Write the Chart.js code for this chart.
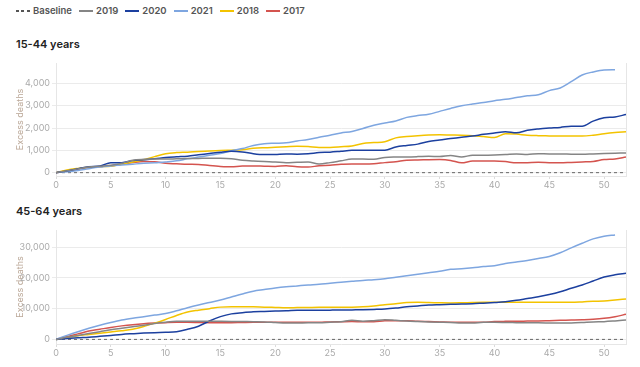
<!DOCTYPE html>
<html>
<head>
<meta charset="utf-8">
<script src="https://cdn.jsdelivr.net/npm/chart.js@4.4.1/dist/chart.umd.min.js"></script>
<style>
  body { margin: 0; width: 640px; height: 367px; background: #fff; position: relative; overflow: hidden; font-family: Inter, 'Noto Sans', sans-serif; }
  #legend { position: absolute; left: 16px; top: 5px; display: flex; align-items: center; font-size: 9.5px; font-weight: 600; color: #555; }
  .item { display: flex; align-items: center; margin-right: 7px; }
  .swatch { width: 14px; height: 2px; margin-right: 3px; }
  .title { position: absolute; left: 16px; font-size: 11px; font-weight: 600; color: #222; line-height: 13px; }
  .wrap { position: absolute; left: 0; width: 640px; }
</style>
</head>
<body>
<div id="legend"></div>
<div class="title" style="top:38px">15-44 years</div>
<div class="wrap" style="top:55px;height:135px"><canvas id="young"></canvas></div>
<div class="title" style="top:205px">45-64 years</div>
<div class="wrap" style="top:222px;height:136px"><canvas id="old"></canvas></div>
<script>
// week numbers (x axis)
const weeks = [0,1,2,3,4,5,6,7,8,9,10,11,12,13,14,15,16,17,18,19,20,21,22,23,24,25,
  26,27,28,29,30,31,32,33,34,35,36,37,38,39,40,41,42,43,44,45,46,47,48,49,50,51,52];
const weekTicks = [0, 5, 10, 15, 20, 25, 30, 35, 40, 45, 50];

const seriesNames = ['2019', '2020', '2021', '2018', '2017'];
const seriesColors = ['#858585', '#1c409f', '#7ea6e0', '#f3c300', '#d4544f'];

// 15-44 years, cumulative excess deaths
const young2019 = [0,80,170,250,290,330,420,560,600,610,610,620,630,640,650,645,620,560,525,500,480,450,470,480,390,450,
  530,610,610,600,680,700,705,720,740,720,765,705,780,780,790,810,840,820,850,840,840,830,825,840,855,870,885];
const young2020 = [0,80,180,270,300,450,450,540,580,620,675,710,740,800,860,920,960,930,850,810,820,840,830,850,900,920,
  960,1000,1000,1000,1010,1150,1220,1280,1400,1460,1530,1590,1640,1720,1780,1840,1790,1900,1960,2000,2030,2085,2085,2310,2460,2500,2610];
const young2021 = [0,40,100,180,250,300,340,380,420,440,480,530,620,700,780,860,980,1080,1220,1300,1320,1340,1420,1490,1590,1680,
  1780,1850,1980,2130,2230,2320,2480,2560,2620,2750,2880,3000,3080,3150,3230,3290,3370,3450,3500,3680,3800,4080,4380,4520,4610,4620];
const young2018 = [0,120,190,240,270,290,380,480,580,720,850,900,920,950,975,990,1010,1030,1090,1120,1140,1160,1180,1170,1130,1130,
  1160,1200,1310,1350,1390,1560,1620,1660,1690,1700,1690,1680,1660,1620,1580,1750,1730,1680,1660,1650,1640,1640,1640,1680,1750,1800,1830];
const young2017 = [0,90,170,230,270,310,380,450,500,490,420,400,380,370,320,280,260,300,300,290,280,310,260,250,310,330,
  380,390,390,400,450,490,560,570,580,585,550,440,520,525,525,500,440,450,465,450,440,460,480,500,585,615,705];

// 45-64 years, cumulative excess deaths
const old2019 = [0,700,1300,1900,2500,3100,3600,4100,4600,5200,5600,5870,5900,5900,5880,5870,5850,5800,5760,5700,5500,5320,5350,5400,5430,5600,
  5760,6190,5900,6100,6400,6200,5980,5800,5700,5600,5500,5320,5300,5540,5540,5500,5450,5400,5380,5350,5320,5350,5500,5700,5760,6000,6300];
const old2020 = [0,250,500,700,1000,1300,1630,1850,2050,2200,2300,2500,3300,4300,6000,7400,8300,8700,9000,9100,9200,9300,9450,9500,9500,9520,
  9550,9600,9650,9750,9880,10200,10630,10900,11180,11300,11400,11510,11600,11800,12000,12260,12700,13300,13890,14600,15500,16630,17700,19000,20300,21000,21520];
const old2021 = [0,1300,2500,3600,4600,5500,6300,6900,7400,7900,8400,9300,10300,11200,12000,12800,13800,14800,15700,16200,16700,17100,17400,17700,17950,18300,
  18600,18900,19200,19400,19700,20200,20700,21200,21700,22200,22800,23000,23300,23700,24000,24700,25200,25700,26300,27000,28200,29800,31300,32700,33600,34000];
const old2018 = [0,600,1200,1600,2000,2400,2800,3300,4200,5300,6500,7800,8900,9500,10000,10500,10650,10650,10630,10500,10400,10300,10350,10400,10450,10470,
  10470,10500,10630,10900,11300,11610,12000,12060,12000,11900,11840,11900,12000,12060,12060,12060,12060,12060,12060,12060,12060,12060,12200,12400,12500,12800,13140];
const old2017 = [0,900,1800,2700,3300,3900,4400,4800,5100,5300,5450,5540,5540,5500,5450,5430,5450,5500,5540,5540,5540,5540,5540,5540,5540,5700,
  5750,5800,5760,5760,6070,6100,6070,5900,5800,5700,5600,5550,5540,5600,5800,5870,5900,5950,6000,6100,6200,6300,6400,6550,6850,7400,8150];

const baseline = weeks.map(() => 0);

const youngTicks = [0, 1000, 2000, 3000, 4000];
const oldTicks = [0, 10000, 20000, 30000];

// Build legend
const legend = document.getElementById('legend');
function addLegendItem(name, color, dashed) {
  const item = document.createElement('div');
  item.className = 'item';
  const sw = document.createElement('span');
  sw.className = 'swatch';
  sw.style.background = dashed
    ? 'repeating-linear-gradient(to right, ' + color + ' 0 3px, transparent 3px 5.5px)'
    : color;
  item.appendChild(sw);
  item.appendChild(document.createTextNode(name));
  legend.appendChild(item);
}
addLegendItem('Baseline', '#555', true);
seriesNames.forEach((n, i) => addLegendItem(n, seriesColors[i], false));

function toPoints(values) {
  return values.map((v, i) => ({ x: weeks[i], y: v }));
}

function makeChart(id, seriesData, yMin, yMax, ticksList) {
  const datasets = seriesData.map((vals, i) => ({
    label: seriesNames[i],
    data: toPoints(vals),
    borderColor: seriesColors[i],
    borderWidth: 1.5,
    pointRadius: 0,
    tension: 0.3,
    cubicInterpolationMode: 'monotone',
    fill: false
  }));
  datasets.push({
    label: 'Baseline',
    data: toPoints(baseline),
    borderColor: '#666',
    borderWidth: 1,
    borderDash: [3, 3],
    pointRadius: 0,
    fill: false
  });

  return new Chart(document.getElementById(id), {
    type: 'line',
    data: { datasets: datasets },
    options: {
      responsive: true,
      maintainAspectRatio: false,
      animation: false,
      layout: { padding: { top: 8, left: 10.6, right: 14, bottom: 0 } },
      plugins: { legend: { display: false }, tooltip: { enabled: false } },
      scales: {
        x: {
          type: 'linear',
          min: 0,
          max: 52,
          afterFit: s => { s.height = 14; },
          afterBuildTicks: s => { s.ticks = weekTicks.map(v => ({ value: v })); },
          grid: { drawOnChartArea: false, tickLength: 3, color: '#dcdcdc' },
          border: { color: '#e6e6e6' },
          ticks: { padding: 1, color: '#aaa', font: { family: 'Inter', size: 9 } }
        },
        y: {
          min: yMin,
          max: yMax,
          afterFit: s => { s.width = 45.4; },
          afterBuildTicks: s => { s.ticks = ticksList.map(v => ({ value: v })); },
          grid: { color: '#ebebeb', tickLength: 4 },
          border: { color: '#e6e6e6' },
          ticks: {
            padding: 2,
            color: '#aaa',
            font: { family: 'Inter', size: 9 },
            callback: v => v.toLocaleString('en-US')
          },
          title: { display: true, text: 'Excess deaths', color: '#bba898', font: { family: 'Inter', size: 9 } }
        },
        y2: {
          position: 'right',
          min: yMin,
          max: yMax,
          afterFit: s => { s.width = 0; },
          grid: { drawOnChartArea: false, drawTicks: false },
          border: { color: '#e6e6e6' },
          ticks: { display: false }
        }
      }
    }
  });
}

makeChart('young', [young2019, young2020, young2021, young2018, young2017], -150, 4920, youngTicks);
makeChart('old', [old2019, old2020, old2021, old2018, old2017], -1500, 35600, oldTicks);
</script>
</body>
</html>
